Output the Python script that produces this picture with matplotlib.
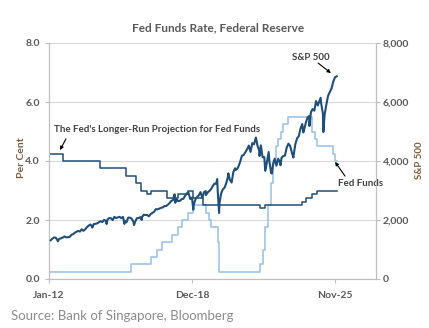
import numpy as np
import pandas as pd
import matplotlib
matplotlib.use("Agg")
from matplotlib import pyplot as plt

plt.rcParams["font.family"] = ["Lato", "DejaVu Sans"]

# S&P 500 month-end closes, Jan-2012 .. Nov-2025
spx_monthly = [
    1312, 1366, 1408, 1398, 1310, 1362, 1379, 1407, 1441, 1412, 1416, 1426,
    1498, 1515, 1569, 1598, 1631, 1606, 1686, 1633, 1682, 1757, 1806, 1848,
    1783, 1859, 1872, 1884, 1924, 1960, 1931, 2003, 1972, 2018, 2068, 2059,
    1995, 2105, 2068, 2086, 2107, 2063, 2104, 1972, 1920, 2079, 2080, 2044,
    1940, 1932, 2060, 2065, 2097, 2099, 2174, 2171, 2168, 2126, 2199, 2239,
    2279, 2364, 2363, 2384, 2412, 2423, 2470, 2472, 2519, 2575, 2648, 2674,
    2824, 2714, 2641, 2648, 2705, 2718, 2816, 2902, 2914, 2712, 2760, 2507,
    2704, 2784, 2834, 2946, 2752, 2942, 2980, 2926, 2977, 3038, 3141, 3231,
    3226, 2954, 2585, 2912, 3044, 3100, 3271, 3500, 3363, 3270, 3622, 3756,
    3714, 3811, 3973, 4181, 4204, 4298, 4395, 4523, 4308, 4605, 4567, 4766,
    4516, 4374, 4530, 4132, 4132, 3785, 4130, 3955, 3586, 3872, 4080, 3840,
    4077, 3970, 4109, 4169, 4180, 4450, 4589, 4508, 4288, 4194, 4568, 4770,
    4846, 5096, 5254, 5036, 5278, 5460, 5522, 5648, 5762, 5705, 6032, 5882,
    6041, 5955, 5612, 5569, 5912, 6205, 6339, 6460, 6688, 6840, 6870,
]
# intra-month highs and lows
spx_extra_dates = [
    "2012-06-04", "2014-02-03", "2014-10-15", "2015-08-25", "2016-02-11",
    "2016-06-27", "2018-01-26", "2018-02-08", "2018-09-20", "2018-12-24",
    "2019-06-03", "2019-08-05", "2020-02-19", "2020-03-23", "2020-09-02",
    "2021-01-04", "2022-01-03", "2022-03-08", "2022-06-16", "2022-08-16",
    "2022-10-12", "2023-03-13", "2023-07-31", "2023-10-27", "2024-04-19",
    "2024-08-05", "2025-02-19", "2025-04-08",
]
spx_extra_values = [
    1278, 1742, 1862, 1868, 1829,
    2001, 2873, 2581, 2930, 2351,
    2744, 2844, 3386, 2237, 3580,
    3701, 4797, 4170, 3667, 4305,
    3577, 3855, 4589, 4117, 4967,
    5186, 6144, 4982,
]

# Fed funds target (upper bound), per cent
ff_dates = [
    "2012-01-01", "2015-12-17", "2016-12-15", "2017-03-16", "2017-06-15",
    "2017-12-14", "2018-03-22", "2018-06-14", "2018-09-27", "2018-12-20",
    "2019-08-01", "2019-09-19", "2019-10-31", "2020-03-04", "2020-03-16",
    "2022-03-17", "2022-05-05", "2022-06-16", "2022-07-28", "2022-09-22",
    "2022-11-03", "2022-12-15", "2023-02-02", "2023-03-23", "2023-05-04",
    "2023-07-27", "2024-09-19", "2024-11-08", "2024-12-19", "2025-09-18",
    "2025-10-30", "2025-11-28",
]
ff_values = [
    0.25, 0.50, 0.75, 1.00, 1.25,
    1.50, 1.75, 2.00, 2.25, 2.50,
    2.25, 2.00, 1.75, 1.25, 0.25,
    0.50, 1.00, 1.75, 2.50, 3.25,
    4.00, 4.50, 4.75, 5.00, 5.25,
    5.50, 5.00, 4.75, 4.50, 4.25,
    4.00, 4.00,
]

# FOMC longer-run projection (median), per cent
lr_dates = [
    "2012-01-01", "2012-09-13", "2014-06-18", "2015-09-17", "2016-03-16",
    "2016-06-15", "2016-09-21", "2016-12-14", "2017-09-20", "2018-03-21",
    "2018-09-26", "2018-12-19", "2019-06-19", "2022-03-16", "2022-06-15",
    "2024-03-20", "2024-06-12", "2024-09-18", "2024-12-18", "2025-11-28",
]
lr_values = [
    4.25, 4.00, 3.75, 3.50, 3.25,
    3.00, 2.875, 3.00, 2.75, 2.875,
    3.00, 2.75, 2.50, 2.40, 2.50,
    2.60, 2.75, 2.875, 3.00, 3.00,
]

tick_dates = ["2012-01-01", "2018-12-01", "2025-11-01"]
tick_labels = ["Jan-12", "Dec-18", "Nov-25"]

dark = "#1f4e79"
light = "#9dc3e6"
gray_txt = "#595959"
brown = "#7b5a3c"

spx = pd.Series(spx_monthly,
                index=pd.date_range("2012-01-31", periods=len(spx_monthly), freq="ME"))
spx = pd.concat([spx, pd.Series(spx_extra_values, index=pd.to_datetime(spx_extra_dates))]).sort_index()

fig = plt.figure(figsize=(4.29, 3.28), dpi=100)
ax = fig.add_axes([49 / 429, 1 - 279 / 328, 327 / 429, 236 / 328])
ax2 = ax.twinx()

ax.step(pd.to_datetime(ff_dates), ff_values, where="post", color=light, lw=1.2, zorder=3)
ax.step(pd.to_datetime(lr_dates), lr_values, where="post", color=dark, lw=1.1, zorder=4)
ax2.plot(spx.index, spx.values, color=dark, lw=1.5, zorder=5)

ax.set_xlim(pd.Timestamp("2012-01-01"), pd.Timestamp("2027-10-25"))
ax.set_ylim(0, 8)
ax2.set_ylim(0, 8000)
ax.set_yticks([0, 2, 4, 6, 8])
ax.set_yticklabels([f"{v:.1f}" for v in [0, 2, 4, 6, 8]])
ax2.set_yticks([0, 2000, 4000, 6000, 8000])
ax2.set_yticklabels(["0", "2,000", "4,000", "6,000", "8,000"])
ax.set_xticks(pd.to_datetime(tick_dates))
ax.set_xticklabels(tick_labels)

ax.grid(axis="y", color="#d9d9d9", lw=0.8)
ax.set_axisbelow(True)
for a in (ax, ax2):
    a.spines["top"].set_visible(False)
    for s in ("left", "right", "bottom"):
        a.spines[s].set_color("#bfbfbf")
    a.tick_params(colors="#bfbfbf", length=3, width=0.8, labelcolor=gray_txt, labelsize=7.5)
    for lab in a.get_xticklabels() + a.get_yticklabels():
        lab.set_fontweight("bold")
ax.tick_params(axis="x", pad=6)
ax2.tick_params(axis="y", pad=2)

fig.text(22 / 429, 1 - 158 / 328, "Per Cent", rotation=90, ha="center", va="center",
         color=brown, fontsize=7.5, fontweight="bold")
fig.text(419 / 429, 1 - 160 / 328, "S&P 500", rotation=90, ha="center", va="center",
         color=brown, fontsize=7, fontweight="bold")

fig.text(0.508, 1 - 28 / 328, "Fed Funds Rate, Federal Reserve", ha="center", va="center",
         fontsize=8.5, fontweight="bold", color=gray_txt)
fig.text(11 / 429, 1 - 316 / 328, "Source: Bank of Singapore, Bloomberg", ha="left", va="center",
         fontsize=9.5, color="#8c8c8c")

ann = dict(fontsize=7, color="#404040", fontweight="bold")
arr = dict(arrowstyle="-|>", color="black", lw=0.8, mutation_scale=5, shrinkA=0, shrinkB=0)

ax2.text(pd.Timestamp("2024-09-05"), 7525, "S&P 500", ha="center", va="center", **ann)
ax2.annotate("", xy=(pd.Timestamp("2025-08-20"), 6980), xytext=(pd.Timestamp("2025-01-05"), 7320),
             arrowprops=arr)

ax.text(pd.Timestamp("2012-03-28"), 5.08, "The Fed's Longer-Run Projection for Fed Funds",
        ha="left", va="center", **ann)
ax.annotate("", xy=(pd.Timestamp("2012-07-13"), 4.37), xytext=(pd.Timestamp("2012-10-27"), 4.75),
            arrowprops=arr)

ax.text(pd.Timestamp("2027-02-01"), 3.25, "Fed Funds", ha="center", va="center", **ann)
ax.annotate("", xy=(pd.Timestamp("2025-11-01"), 3.97), xytext=(pd.Timestamp("2026-04-25"), 3.49),
            arrowprops=arr)

fig.savefig("out.png", dpi=100)
